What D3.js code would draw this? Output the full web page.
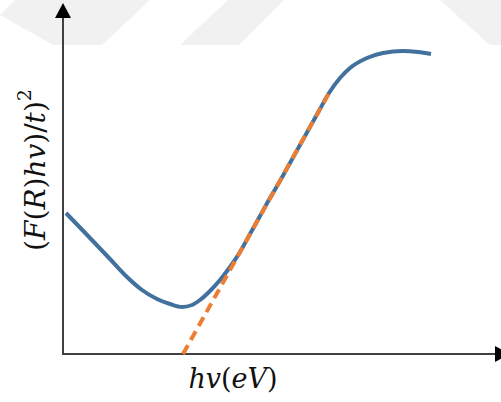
<!DOCTYPE html>
<html>
<head>
<meta charset="utf-8">
<script src="https://cdn.jsdelivr.net/npm/d3@7"></script>
<style>
  html, body { margin: 0; padding: 0; background: #fff; }
  svg { display: block; }
  text { font-family: "DejaVu Serif", "Liberation Serif", serif; fill: #111; }
</style>
</head>
<body>
<svg id="chart" width="501" height="402"></svg>
<script>
// absorption curve (arbitrary units)
const energy = [0.03, 0.27, 0.47, 0.64, 0.79, 0.94, 1.07, 1.19, 1.29, 1.37, 1.47, 1.57, 1.67, 1.77,
                1.87, 1.97, 2.07, 2.17, 2.27, 2.37, 2.47, 2.57, 2.66, 2.77, 2.87, 3.04, 3.20, 3.40, 3.55, 3.68];
const signal = [1.41, 1.16, 0.95, 0.77, 0.64, 0.55, 0.50, 0.47, 0.49, 0.54, 0.63, 0.74, 0.87, 1.02,
                1.20, 1.38, 1.56, 1.73, 1.91, 2.09, 2.27, 2.45, 2.61, 2.76, 2.86, 2.96, 3.01, 3.03, 3.02, 3.00];
// linear fit (Tauc extrapolation)
const fitX = [1.20, 2.66];
const fitY = [0, 2.61];
// axis extents
const xMax = 4.32;
const yMax = 3.51;

const svg = d3.select('#chart');

// faint watermark in the background
const marks = [
    [[0, 15], [15, 0], [150, 0], [102, 45], [53, 45]],
    [[228, 0], [284, 0], [239, 45], [180, 45]],
    [[440, 0], [501, 0], [501, 45], [490, 45]]
];
svg.selectAll('polygon.wm')
    .data(marks)
    .enter()
    .append('polygon')
    .attr('class', 'wm')
    .attr('points', d => d.map(p => p.join(',')).join(' '))
    .attr('fill', '#f1f1f1');

const x = d3.scaleLinear().domain([0, xMax]).range([63, 495]);
const y = d3.scaleLinear().domain([0, yMax]).range([354, 3]);

// axes
const axisG = svg.append('g');
axisG.append('line')
    .attr('x1', x(0)).attr('y1', y(0))
    .attr('x2', x(0)).attr('y2', y(yMax) + 14)
    .attr('stroke', '#404040').attr('stroke-width', 2);
axisG.append('line')
    .attr('x1', x(0) - 1).attr('y1', y(0))
    .attr('x2', x(xMax)).attr('y2', y(0))
    .attr('stroke', '#404040').attr('stroke-width', 2);
// arrow heads
axisG.append('path')
    .attr('d', `M${x(0)},${y(yMax)} L${x(0) - 8},${y(yMax) + 15} L${x(0) + 8},${y(yMax) + 15} Z`)
    .attr('fill', '#000');
axisG.append('path')
    .attr('d', `M${x(xMax) + 15},${y(0)} L${x(xMax)},${y(0) - 8} L${x(xMax)},${y(0) + 8} Z`)
    .attr('fill', '#000');

// curve
const pts = energy.map((e, i) => [e, signal[i]]);
const line = d3.line()
    .x(d => x(d[0]))
    .y(d => y(d[1]))
    .curve(d3.curveMonotoneX);
svg.append('path')
    .datum(pts)
    .attr('d', line)
    .attr('fill', 'none')
    .attr('stroke', '#41719c')
    .attr('stroke-width', 4)
    .attr('stroke-linecap', 'butt');

// fitted tangent
svg.append('path')
    .datum(fitX.map((v, i) => [v, fitY[i]]))
    .attr('d', d3.line().x(d => x(d[0])).y(d => y(d[1])))
    .attr('fill', 'none')
    .attr('stroke', '#ed7d31')
    .attr('stroke-width', 4)
    .attr('stroke-dasharray', '10,6');

// x label
const xl = svg.append('text')
    .attr('x', 233).attr('y', 388)
    .attr('text-anchor', 'middle')
    .attr('font-size', 27);
xl.append('tspan').attr('font-style', 'italic').text('hv');
xl.append('tspan').text('(');
xl.append('tspan').attr('font-style', 'italic').text('eV');
xl.append('tspan').text(')');

// y label
const yl = svg.append('text')
    .attr('transform', 'translate(45,170) rotate(-90)')
    .attr('text-anchor', 'middle')
    .attr('font-size', 28);
yl.append('tspan').text('(');
yl.append('tspan').attr('font-style', 'italic').text('F');
yl.append('tspan').text('(');
yl.append('tspan').attr('font-style', 'italic').text('R');
yl.append('tspan').text(')');
yl.append('tspan').attr('font-style', 'italic').text('hv');
yl.append('tspan').text(')/');
yl.append('tspan').attr('font-style', 'italic').text('t');
yl.append('tspan').text(')');
yl.append('tspan').attr('font-size', 19).attr('dy', -14).text('2');
</script>
</body>
</html>
